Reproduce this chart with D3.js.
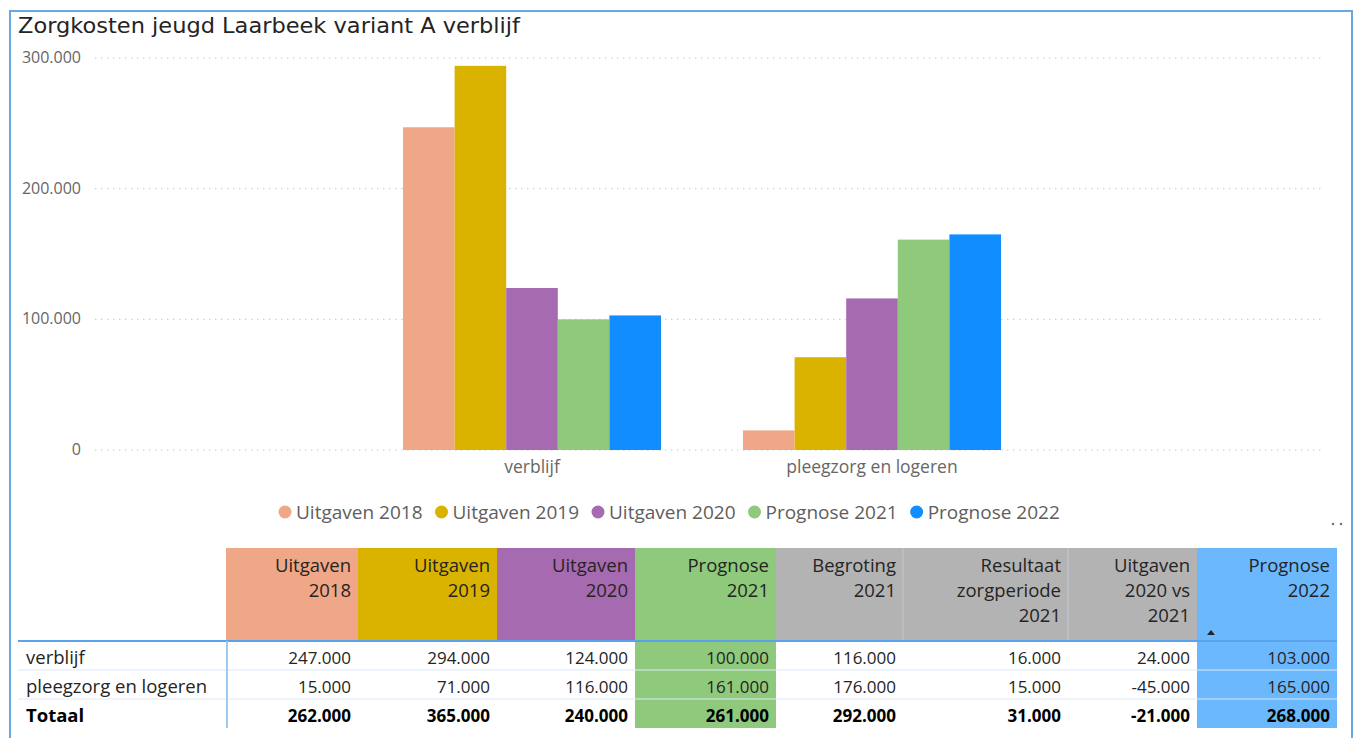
<!DOCTYPE html>
<html>
<head>
<meta charset="utf-8">
<script src="https://cdn.jsdelivr.net/npm/d3@7"></script>
<style>
  body { margin: 0; background: #fff; }
  svg { display: block; }
</style>
</head>
<body>
<div id="chart"></div>
<script>
'use strict';

// chart data
const categories = ["verblijf", "pleegzorg en logeren"]
const series = ["Uitgaven 2018", "Uitgaven 2019", "Uitgaven 2020", "Prognose 2021", "Prognose 2022"]
const verblijfValues = [247000, 294000, 124000, 100000, 103000]
const pleegzorgValues = [15000, 71000, 116000, 161000, 165000]
const yTicks = [0, 100000, 200000, 300000]

// table data
const tableHeaders = [
  ["Uitgaven", "2018"], ["Uitgaven", "2019"], ["Uitgaven", "2020"], ["Prognose", "2021"],
  ["Begroting", "2021"], ["Resultaat", "zorgperiode", "2021"], ["Uitgaven", "2020 vs", "2021"], ["Prognose", "2022"]
]
const rowLabels = ["verblijf", "pleegzorg en logeren", "Totaal"]
const tableVerblijf = [247000, 294000, 124000, 100000, 116000, 16000, 24000, 103000]
const tablePleegzorg = [15000, 71000, 116000, 161000, 176000, 15000, -45000, 165000]
const tableTotaal = [262000, 365000, 240000, 261000, 292000, 31000, -21000, 268000]

const colors = ["#f0a787", "#d9b300", "#a66ab0", "#8fc97c", "#118dff"]
const headerColors = ["#f0a787", "#d9b300", "#a66ab0", "#8fc97c", "#b3b3b3", "#b3b3b3", "#b3b3b3", "#6cb8fd"]

const width = 1357, height = 738
const font = "'Open Sans', sans-serif"

const nl = d3.formatLocale({ decimal: ",", thousands: ".", grouping: [3], currency: ["€", ""], minus: "-" })
const fmt = nl.format(",d")

const svg = d3.select("#chart").append("svg")
  .attr("width", width)
  .attr("height", height)

// visual border
svg.append("rect")
  .attr("x", 10).attr("y", 11)
  .attr("width", 1342).attr("height", 740)
  .attr("fill", "none")
  .attr("stroke", "#6aa6e0")
  .attr("stroke-width", 2)

// title (stretched a bit to match the original DIN width)
svg.append("text")
  .attr("x", 18).attr("y", 33)
  .attr("font-family", "'DejaVu Sans', sans-serif")
  .attr("font-size", 21)
  .attr("fill", "#252423")
  .attr("textLength", 502)
  .attr("lengthAdjust", "spacingAndGlyphs")
  .text("Zorgkosten jeugd Laarbeek variant A verblijf")

// scales
const y = d3.scaleLinear().domain([0, 300000]).range([450, 58])
const x0 = d3.scalePoint().domain(categories).range([362, 1042]).padding(0.5)
const x1 = d3.scaleBand().domain(series).range([-129, 129])

// dotted gridlines + y labels
const yAxis = svg.append("g")
yAxis.selectAll("line")
  .data(yTicks)
  .join("line")
  .attr("x1", 95).attr("x2", 1325)
  .attr("y1", d => y(d)).attr("y2", d => y(d))
  .attr("stroke", "#c8c8c8")
  .attr("stroke-dasharray", "1.5,4.5")
yAxis.selectAll("text")
  .data(yTicks)
  .join("text")
  .attr("x", 81)
  .attr("y", d => y(d) + 5)
  .attr("text-anchor", "end")
  .attr("font-family", font)
  .attr("font-size", 16)
  .attr("fill", "#666")
  .text(d => fmt(d))

// bars
const groups = [verblijfValues, pleegzorgValues]
const g = svg.append("g")
  .selectAll("g")
  .data(categories)
  .join("g")
  .attr("transform", d => `translate(${x0(d)},0)`)

g.selectAll("rect")
  .data((d, i) => groups[i].map((v, j) => ({ key: series[j], value: v, i: j })))
  .join("rect")
  .attr("x", d => x1(d.key))
  .attr("width", x1.bandwidth())
  .attr("y", d => y(d.value))
  .attr("height", d => y(0) - y(d.value))
  .attr("fill", d => colors[d.i])

// category labels
svg.append("g").selectAll("text")
  .data(categories)
  .join("text")
  .attr("x", d => x0(d))
  .attr("y", 473)
  .attr("text-anchor", "middle")
  .attr("font-family", font)
  .attr("font-size", 17.5)
  .attr("fill", "#666")
  .text(d => d)

// legend
const legend = svg.append("g")
let lx = 278
series.forEach((s, i) => {
  legend.append("circle")
    .attr("cx", lx + 7).attr("cy", 512).attr("r", 6.5)
    .attr("fill", colors[i])
  const t = legend.append("text")
    .attr("x", lx + 18).attr("y", 518.5)
    .attr("font-family", font)
    .attr("font-size", 19)
    .attr("fill", "#605e5c")
    .text(s)
  lx += 18 + t.node().getComputedTextLength() + 12
})

// more-options dots
svg.selectAll(".dots")
  .data([1333, 1341])
  .join("circle")
  .attr("cx", d => d).attr("cy", 524).attr("r", 1.3)
  .attr("fill", "#777")

// table
const colEdges = [18, 226, 358, 497, 635, 776, 903, 1068, 1197, 1337]
const tableRows = [tableVerblijf, tablePleegzorg, tableTotaal]
const headTop = 548, headBottom = 641, rowH = 29
const table = svg.append("g")

tableHeaders.forEach((lines, c) => {
  const xl = colEdges[c + 1], xr = colEdges[c + 2]
  table.append("rect")
    .attr("x", xl).attr("y", headTop)
    .attr("width", xr - xl).attr("height", headBottom - headTop)
    .attr("fill", headerColors[c])
  lines.forEach((line, k) => {
    table.append("text")
      .attr("x", xr - 7).attr("y", 572 + k * 25)
      .attr("text-anchor", "end")
      .attr("font-family", font)
      .attr("font-size", 18.5)
      .attr("fill", "#252423")
      .text(line)
  })
})

// faint dividers between the gray header cells
;[6, 7].forEach(c => {
  table.append("line")
    .attr("x1", colEdges[c]).attr("x2", colEdges[c])
    .attr("y1", headTop).attr("y2", headBottom)
    .attr("stroke", "#c2c8d0").attr("stroke-width", 1)
})

// highlighted data columns
;[3, 7].forEach(c => {
  table.append("rect")
    .attr("x", colEdges[c + 1]).attr("y", headBottom)
    .attr("width", colEdges[c + 2] - colEdges[c + 1]).attr("height", rowH * 3)
    .attr("fill", headerColors[c])
})

// row separators
;[1, 2].forEach(r => {
  table.append("line")
    .attr("x1", 18).attr("x2", 1337)
    .attr("y1", headBottom + r * rowH).attr("y2", headBottom + r * rowH)
    .attr("stroke", "#dbe9f8")
    .attr("stroke-width", 1)
})

table.append("line")
  .attr("x1", 18).attr("x2", 1337)
  .attr("y1", headBottom).attr("y2", headBottom)
  .attr("stroke", "#5aa3ec").attr("stroke-width", 2)
table.append("line")
  .attr("x1", 227).attr("x2", 227)
  .attr("y1", headBottom).attr("y2", headBottom + rowH * 3)
  .attr("stroke", "#9ccaf5").attr("stroke-width", 2)

// sort arrow
table.append("path")
  .attr("d", "M1207,635 L1211,630 L1215,635 Z")
  .attr("fill", "#252423")

tableRows.forEach((row, r) => {
  const bold = r === 2
  const by = headBottom + r * rowH + 23
  table.append("text")
    .attr("x", 26).attr("y", by)
    .attr("font-family", font)
    .attr("font-size", 18.5)
    .attr("font-weight", bold ? "bold" : "normal")
    .attr("fill", bold ? "#000" : "#252423")
    .text(rowLabels[r])
  row.forEach((v, c) => {
    table.append("text")
      .attr("x", colEdges[c + 2] - 7).attr("y", by)
      .attr("text-anchor", "end")
      .attr("font-family", font)
      .attr("font-size", 17)
      .attr("font-weight", bold ? "bold" : "normal")
      .attr("fill", bold ? "#000" : "#252423")
      .text(fmt(v))
  })
})
</script>
</body>
</html>
